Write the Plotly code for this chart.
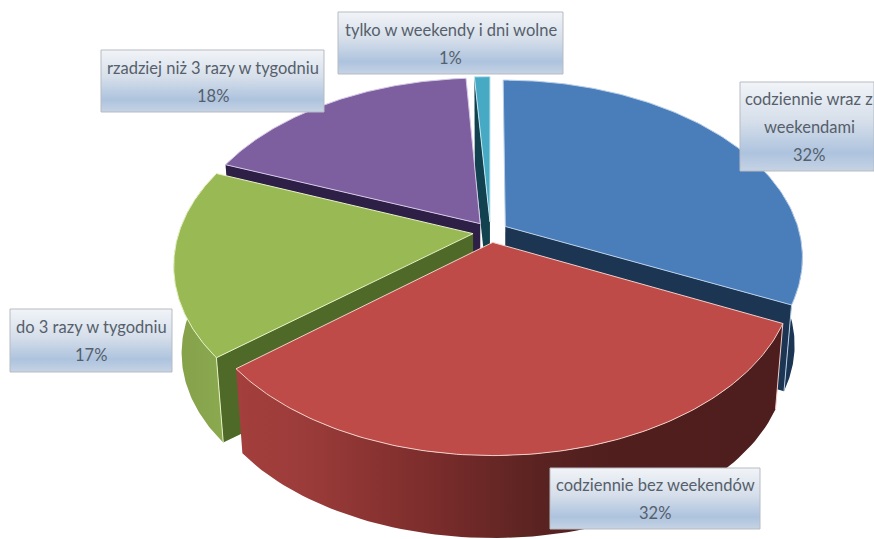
import numpy as np
import plotly.graph_objects as go

categories = ["codziennie wraz z weekendami", "codziennie bez weekendów", "do 3 razy w tygodniu",
              "rzadziej niż 3 razy w tygodniu", "tylko w weekendy i dni wolne"]
values = [32, 32, 17, 18, 1]
percent_labels = ["32%", "32%", "17%", "18%", "1%"]
label_lines = [["codziennie wraz z", "weekendami", "32%"],
               ["codziennie bez weekendów", "32%"],
               ["do 3 razy w tygodniu", "17%"],
               ["rzadziej niż 3 razy w tygodniu", "18%"],
               ["tylko w weekendy i dni wolne", "1%"]]
label_boxes = [(740, 874, 82, 171), (550, 760, 468, 529), (10, 172, 309, 372), (101, 324, 50, 112), (338, 563, 12, 74)]
face_colors = ["#4a7ebb", "#be4b48", "#98b954", "#7d5fa0", "#46aac5"]
edge_colors = ["#b9cfe8", "#f2cfc9", "#e6f2c4", "#d5c8e6", "#c5e6ef"]
wall_colors = ["#1b3552", "#5a2220", "#4f6a28", "#2e1f47", "#12424f"]
outer_scales = [[[0, "#1b3552"], [1, "#1b3552"]],
                [[0, "#a33f3d"], [0.12, "#9c3c3a"], [0.35, "#7c2d2c"], [0.55, "#5a2321"], [0.7, "#4f1e1d"], [1, "#4e1d1d"]],
                [[0, "#84a14a"], [1, "#8ba94f"]],
                [[0, "#2e1f47"], [1, "#2e1f47"]],
                [[0, "#12424f"], [1, "#12424f"]]]

CX, CY, R, B, A, EXPL, DEPTH, SHRINK = 490.5, 232, 294, 173, 0.17, 0.06, 88, 0.975
LINE_STEP = 28


def project(theta, r, mid, z=0.0):
    u = r * np.sin(theta) + EXPL * np.sin(mid)
    v = -r * np.cos(theta) - EXPL * np.cos(mid)
    s = 1 / (1 - A * v)
    k = SHRINK if z else 1.0
    return CX + R * u * s * k, CY + B * v * s * k + DEPTH * z


fig = go.Figure()


def poly(xs, ys, color=None, line=None, width=0, gradient=None):
    kw = dict(fillgradient=gradient) if gradient else dict(fillcolor=color)
    fig.add_trace(go.Scatter(x=list(xs), y=list(ys), mode="lines", fill="toself",
                             line=dict(color=line or "rgba(0,0,0,0)", width=width),
                             hoverinfo="skip", showlegend=False, **kw))


fractions = np.cumsum([0] + values) / sum(values) * 2 * np.pi
slices = [(fractions[i], fractions[i + 1]) for i in range(len(values))]
draw_order = [0, 4, 3, 2, 1]
front_lo, front_hi = np.radians(80), np.radians(285)

for i in draw_order:
    a0, a1 = slices[i]
    mid = (a0 + a1) / 2
    ax, ay = project(0, 0, mid)
    bx, by = project(0, 0, mid, 1)
    # radial wall that faces the viewer (the red slice shows none)
    if i != 1:
        th = a1 if i == 0 else a0
        ox, oy = project(th, 1, mid)
        px, py = project(th, 1, mid, 1)
        poly([ax, ox, px, bx, ax], [ay, oy, py, by, ay], color=wall_colors[i])
    # outer rim wall
    lo, hi = max(a0, front_lo), min(a1, front_hi)
    if lo < hi:
        t = np.linspace(lo, hi, 80)
        tx, ty = project(t, 1, mid)
        ux, uy = project(t, 1, mid, 1)
        xs = np.r_[tx, ux[::-1], tx[0]]
        ys = np.r_[ty, uy[::-1], ty[0]]
        poly(xs, ys, gradient=dict(type="horizontal", colorscale=outer_scales[i],
                                   start=float(xs.min()), stop=float(xs.max())))
    # corner highlight
    if i in (0, 1, 2):
        th = a1 if i == 0 else a0
        ox, oy = project(th, 1, mid)
        px, py = project(th, 1, mid, 1)
        fig.add_trace(go.Scatter(x=[ox, px], y=[oy, py], mode="lines", hoverinfo="skip", showlegend=False,
                                 line=dict(color=edge_colors[i], width=1)))
    # top face
    t = np.linspace(a0, a1, 120)
    fx, fy = project(t, 1, mid)
    poly(np.r_[ax, fx, ax], np.r_[ay, fy, ay], color=face_colors[i], line=edge_colors[i], width=1)

annotations = []
for lines, (x0, x1, y0, y1) in zip(label_lines, label_boxes):
    poly([x0, x1, x1, x0, x0], [y0, y0, y1, y1, y0], line="#b7bbc2", width=1,
         gradient=dict(type="vertical", start=y0, stop=y1,
                       colorscale=[[0, "#f1f4f8"], [0.45, "#d5deea"], [0.8, "#adc3de"], [1, "#c6d3e4"]]))
    centre_y = (y0 + y1) / 2 + 0.5
    for j, text in enumerate(lines):
        annotations.append(dict(x=(x0 + x1) / 2 + (2 if x1 == 874 else 0),
                                y=centre_y + (j - (len(lines) - 1) / 2) * LINE_STEP,
                                text=text, showarrow=False, xref="x", yref="y",
                                xanchor="center", yanchor="middle",
                                font=dict(family="Lato", size=16.5, color="#565f6b")))

fig.update_layout(width=874, height=539, margin=dict(l=0, r=0, t=0, b=0), paper_bgcolor="white",
                  plot_bgcolor="white", showlegend=False, annotations=annotations, hovermode=False,
                  xaxis=dict(range=[0, 874], visible=False, fixedrange=True),
                  yaxis=dict(range=[539, 0], visible=False, fixedrange=True))
fig.write_html("out.html", post_script="document.body.style.margin='0';document.body.style.overflow='hidden';",
               config=dict(displayModeBar=False))
